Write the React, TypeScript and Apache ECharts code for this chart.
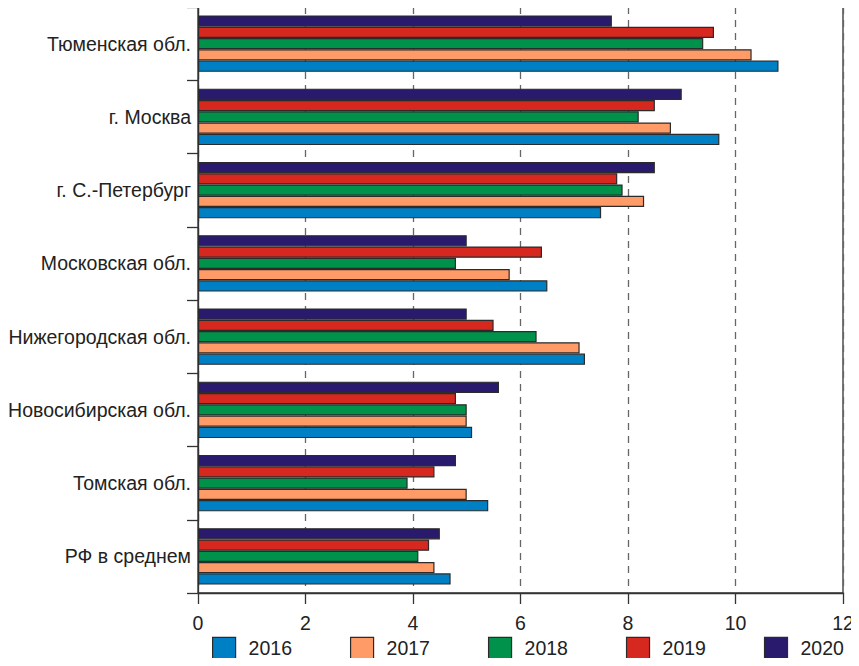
import React, { useEffect, useRef } from "react";
import * as echarts from "echarts";

const categories = [
  "Тюменская обл.",
  "г. Москва",
  "г. С.-Петербург",
  "Московская обл.",
  "Нижегородская обл.",
  "Новосибирская обл.",
  "Томская обл.",
  "РФ в среднем",
];

const years = ["2016", "2017", "2018", "2019", "2020"];

const v2016 = [10.8, 9.7, 7.5, 6.5, 7.2, 5.1, 5.4, 4.7];
const v2017 = [10.3, 8.8, 8.3, 5.8, 7.1, 5.0, 5.0, 4.4];
const v2018 = [9.4, 8.2, 7.9, 4.8, 6.3, 5.0, 3.9, 4.1];
const v2019 = [9.6, 8.5, 7.8, 6.4, 5.5, 4.8, 4.4, 4.3];
const v2020 = [7.7, 9.0, 8.5, 5.0, 5.0, 5.6, 4.8, 4.5];

const colors = ["#0080C4", "#FF9B66", "#00924A", "#D7281F", "#2A1A6E"];

const xTicks = [0, 2, 4, 6, 8, 10, 12];

export default function App() {
  const ref = useRef<HTMLDivElement>(null);
  useEffect(() => {
    if (!ref.current) return;
    const chart = echarts.init(ref.current, null, { renderer: "svg" });
    const values = [v2016, v2017, v2018, v2019, v2020];
    const series = years
      .map((y, i) => ({
        name: y,
        type: "bar" as const,
        data: values[i],
        barGap: "0%",
        barCategoryGap: "23%",
        itemStyle: { color: colors[i], borderColor: "#2b2b2b", borderWidth: 1.2 },
      }))
      .reverse();
    chart.setOption({
      animation: false,
      textStyle: { fontFamily: "Liberation Sans, Arial, sans-serif" },
      grid: {
        left: 198,
        right: 16,
        top: 7,
        bottom: 73,
        show: true,
        borderColor: "#333",
        borderWidth: 1.3,
      },
      legend: {
        data: years,
        bottom: 1,
        left: 207,
        itemWidth: 23,
        itemHeight: 22,
        itemGap: 58,
        icon: "rect",
        itemStyle: { borderColor: "#2b2b2b", borderWidth: 1.2 },
        textStyle: { fontSize: 19.5, color: "#222", padding: [0, 0, 0, 8] },
      },
      xAxis: {
        type: "value",
        min: 0,
        max: 12,
        interval: 2,
        axisLine: { show: true, lineStyle: { color: "#333", width: 1.3 } },
        axisTick: { show: true, length: 11, lineStyle: { color: "#333", width: 1.3 } },
        axisLabel: {
          fontSize: 19.5,
          color: "#222",
          margin: 20,
          formatter: (v: number) => (xTicks.includes(v) ? String(v) : ""),
        },
        splitLine: {
          show: true,
          lineStyle: { color: "#666", type: [7, 6], width: 1.3 },
        },
      },
      yAxis: {
        type: "category",
        data: categories,
        inverse: true,
        axisLine: { show: true, lineStyle: { color: "#333", width: 1.3 } },
        axisTick: { show: true, length: 11, lineStyle: { color: "#333", width: 1.3 } },
        axisLabel: { fontSize: 19.5, color: "#222", margin: 7 },
        splitLine: { show: false },
      },
      series,
    });
    return () => chart.dispose();
  }, []);
  return <div ref={ref} style={{ width: 859, height: 666, margin: -8 }} />;
}
